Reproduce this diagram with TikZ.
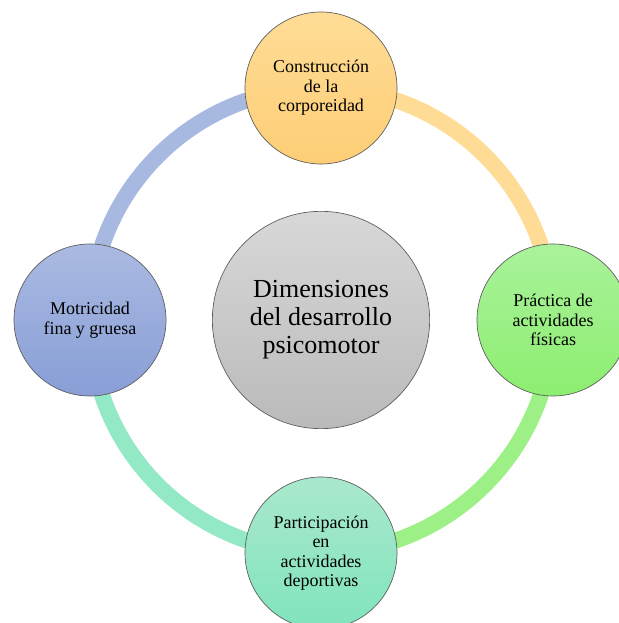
\documentclass[tikz,border=0pt]{standalone}
\usepackage{fontspec}
\setmainfont{Liberation Serif}
\usetikzlibrary{backgrounds}

\definecolor{azulA}{RGB}{170,186,226}
\definecolor{azulB}{RGB}{136,158,214}
\definecolor{naranjaA}{RGB}{255,220,150}
\definecolor{naranjaB}{RGB}{253,206,118}
\definecolor{verdeA}{RGB}{170,242,155}
\definecolor{verdeB}{RGB}{140,238,112}
\definecolor{turqA}{RGB}{170,232,206}
\definecolor{turqB}{RGB}{128,228,188}
\definecolor{grisA}{RGB}{216,216,216}
\definecolor{grisB}{RGB}{186,186,186}
\definecolor{borde}{RGB}{90,90,90}

\begin{document}
\begin{tikzpicture}[x=0.75pt, y=0.75pt,
    dim/.style={circle, draw=borde, line width=0.5pt, minimum size=114pt,
        inner sep=0pt, align=center, font=\fontsize{13.5}{14.6}\selectfont},
    centro/.style={circle, draw=borde, line width=0.5pt, minimum size=163pt,
        inner sep=0pt, align=center, font=\fontsize{19.5}{21}\selectfont,
        top color=grisA, bottom color=grisB},
    anillo/.style={line width=12pt}]
    \useasboundingbox (-321,-303) rectangle (297,320);

    \node[centro] (desarrollo) at (0,0) {Dimensiones\\del desarrollo\\psicomotor};

    \node[dim, top color=naranjaA, bottom color=naranjaB] (constr) at (90:232)
        {Construcción\\de la\\corporeidad};
    \node[dim, top color=verdeA, bottom color=verdeB] (practica) at (0:232)
        {Práctica de\\actividades\\físicas};
    \node[dim, top color=turqA, bottom color=turqB] (partic) at (270:233)
        {Participación\\en\\actividades\\deportivas};
    \node[dim, top color=azulA, bottom color=azulB] (motric) at (180:231)
        {Motricidad\\fina y gruesa};

    \begin{pgfonlayer}{background}
        \draw[anillo, naranjaA] (constr.center) to[bend left=45] (practica.center);
        \draw[anillo, verdeB!85!white] (practica.center) to[bend left=45] (partic.center);
        \draw[anillo, turqB!85!white] (partic.center) to[bend left=45] (motric.center);
        \draw[anillo, azulA!95!azulB] (motric.center) to[bend left=45] (constr.center);
    \end{pgfonlayer}

\end{tikzpicture}
\end{document}
